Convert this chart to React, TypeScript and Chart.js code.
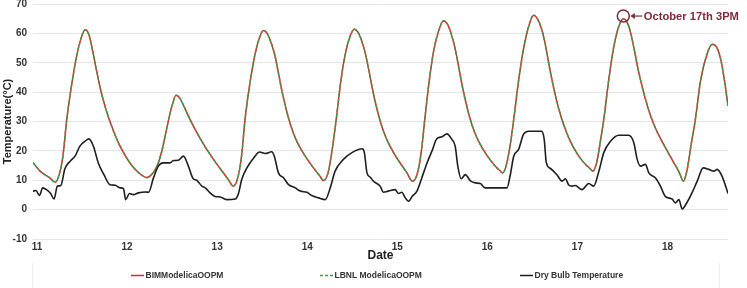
import React, { useEffect, useRef } from 'react';
import { Chart, registerables } from 'chart.js';

Chart.register(...registerables);

// ---- data (hours since 11 Oct 00:00) ----
const dayTickHours = [0, 24, 48, 72, 96, 120, 144, 168];
const dayTickLabels = ['11', '12', '13', '14', '15', '16', '17', '18'];

const seriesNames = ['BIMModelicaOOPM', 'LBNL ModelicaOOPM', 'Dry Bulb Temperature'];

const modelHours = [
  0, 1.9, 4.5, 5.9, 7.0, 8.0, 9.0, 10.3, 11.6, 12.8, 13.9,
  14.9, 15.9, 16.9, 17.9, 18.9, 19.9, 20.9, 21.9, 22.9, 23.9, 24.9, 25.9, 26.9, 27.9, 28.9, 30.3,
  31.3, 32.3, 33.3, 34.3, 35.3, 36.3, 37.2, 38.1,
  39.0, 40.0, 41.0, 42.0, 43.0, 44.5, 46.0, 47.5, 49.0, 50.5, 52.0, 53.4,
  54.7, 55.6, 56.5, 57.8, 59.1, 60.3, 61.4,
  62.4, 63.4, 64.4, 65.4, 66.4, 67.4, 68.4, 69.4, 70.4, 71.4, 72.4, 73.4, 74.4, 75.4, 76.4, 77.4,
  78.5, 79.5, 80.8, 82.0, 83.3, 84.5, 85.6,
  86.6, 87.6, 88.6, 89.6, 90.6, 91.6, 92.6, 93.6, 94.6, 95.6, 96.6, 97.6, 98.6, 99.6, 101.1,
  102.3, 103.4, 104.4, 105.5, 106.7, 108.0, 109.4,
  110.4, 111.4, 112.4, 113.4, 114.4, 115.4, 116.4, 117.4, 118.4, 119.4, 120.4, 121.4, 122.4, 123.4, 124.4, 125.2,
  126.2, 127.1, 128.1, 129.3, 130.7, 132.0, 133.4,
  134.4, 135.4, 136.4, 137.4, 138.4, 139.4, 140.4, 141.4, 142.4, 143.4, 144.4, 145.4, 146.4, 147.4, 148.4, 149.2,
  150.2, 151.1, 152.1, 153.3, 154.7, 156.0, 157.3,
  158.3, 159.3, 160.3, 161.3, 162.3, 163.3, 164.3, 165.3, 166.3, 167.3, 168.3, 169.3, 170.3, 171.3, 172.3, 173.3,
  174.3, 175.3, 176.5, 177.9, 179.5, 181.0, 182.2, 183.2, 184.2, 185.2,
];

const bimModelicaTemps = [
  16, 13.1, 10.8, 9.3, 12, 18.5, 30.7, 42.5, 52, 58.3, 61.2,
  59.5, 54, 47.5, 41.5, 36.5, 32.3, 28.6, 25.3, 22.4, 19.9, 17.7, 15.8, 14.2, 12.9, 11.8, 10.9,
  11.6, 13, 15.6, 19.8, 25.6, 31.6, 36, 38.9,
  38.2, 35.8, 33, 30.3, 27.8, 24.3, 21.1, 18.2, 15.5, 12.9, 10.3, 8,
  11.5, 18.5, 30.7, 43, 52.5, 58.3, 61,
  60, 57, 52.8, 46.5, 40, 34.5, 29.8, 26, 23, 20.6, 18.5, 16.6, 14.8, 13.1, 11.5, 9.9,
  12, 18.5, 30.7, 43.5, 53.5, 59, 61.4,
  60.4, 57.4, 53, 46.8, 40.2, 34.6, 29.8, 26, 23, 20.5, 18.3, 16.3, 14.5, 12.6, 9.7,
  11.8, 19, 30.7, 43, 53.5, 60.5, 64.3,
  63.2, 60, 55.3, 48.8, 42, 36.2, 31.3, 27.3, 24.2, 21.7, 19.6, 17.7, 16, 14.5, 13.3, 12.5,
  15.5, 21.5, 30.7, 43, 54.6, 62, 66.2,
  65, 62, 57, 50, 43.5, 37.8, 33, 29, 25.6, 22.7, 20.3, 18.3, 16.6, 15.2, 14, 13.1,
  16, 22.5, 30.7, 43, 55, 62, 65,
  63.8, 60, 54, 47.5, 42, 37.2, 33, 29.5, 26.5, 24, 21.6, 19.3, 17, 14.8, 12.4, 9.7,
  13.5, 21.5, 30.7, 44, 52.5, 56.3, 55.2, 51.5, 44.5, 35.3,
];

const lbnlModelicaTemps = [
  16, 13.1, 10.8, 9.3, 12, 18.5, 30.7, 42.5, 52, 58.3, 61.2,
  59.5, 54, 47.5, 41.5, 36.5, 32.3, 28.6, 25.3, 22.4, 19.9, 17.7, 15.8, 14.2, 12.9, 11.8, 10.9,
  11.6, 13, 15.6, 19.8, 25.6, 31.6, 36, 38.9,
  38.2, 35.8, 33, 30.3, 27.8, 24.3, 21.1, 18.2, 15.5, 12.9, 10.3, 8,
  11.5, 18.5, 30.7, 43, 52.5, 58.3, 61,
  60, 57, 52.8, 46.5, 40, 34.5, 29.8, 26, 23, 20.6, 18.5, 16.6, 14.8, 13.1, 11.5, 9.9,
  12, 18.5, 30.7, 43.5, 53.5, 59, 61.4,
  60.4, 57.4, 53, 46.8, 40.2, 34.6, 29.8, 26, 23, 20.5, 18.3, 16.3, 14.5, 12.6, 9.7,
  11.8, 19, 30.7, 43, 53.5, 60.5, 64.3,
  63.2, 60, 55.3, 48.8, 42, 36.2, 31.3, 27.3, 24.2, 21.7, 19.6, 17.7, 16, 14.5, 13.3, 12.5,
  15.5, 21.5, 30.7, 43, 54.6, 62, 66.2,
  65, 62, 57, 50, 43.5, 37.8, 33, 29, 25.6, 22.7, 20.3, 18.3, 16.6, 15.2, 14, 13.1,
  16, 22.5, 30.7, 43, 55, 62, 65,
  63.8, 60, 54, 47.5, 42, 37.2, 33, 29.5, 26.5, 24, 21.6, 19.3, 17, 14.8, 12.4, 9.7,
  13.5, 21.5, 30.7, 44, 52.5, 56.3, 55.2, 51.5, 44.5, 35.3,
];

const dryBulbHours = [
  0, 0.8, 1.7, 2.6, 3.6, 4.7, 5.6, 6.5, 7.4, 8.5, 9.9, 11.2, 12.5, 13.9, 14.9, 16.1, 17.4, 18.9, 20.5, 21.9, 23.2,
  24.1, 24.7, 25.7, 26.7, 28.1, 29.9, 30.8, 32.1, 33.4, 34.7, 36.5, 37.4, 38.7, 40.1, 41.4, 42.7, 43.6, 45.0, 45.9, 47.2,
  48.5, 49.9, 51.6, 53.9, 54.8, 55.6, 57.0, 58.8, 60.4, 61.9, 63.6, 64.3, 65.4, 66.8, 68.1, 69.9, 71.2,
  73.0, 74.3, 76.1, 77.9, 79.2, 80.5, 82.7, 85.0, 87.7, 88.3, 89.0, 89.9, 90.7, 92.5, 93.4, 94.7,
  96.5, 97.4, 98.3, 99.2, 100.1, 101.0, 102.3, 103.6, 105.0, 106.3, 107.6, 109.0, 110.3, 111.6, 112.5, 113.2, 114.1, 115.2, 116.5, 117.9, 119.2,
  120.5, 122.8, 126.3, 127.2, 128.1, 129.4, 130.7, 132.1, 135.5, 136.2, 136.8, 137.9, 139.6, 141.0, 141.9, 142.7,
  143.6, 144.5, 146.3, 148.1, 149.4, 150.8, 152.1, 153.9, 156.1, 158.7, 160.1, 161.0, 161.9, 163.2, 164.1, 165.9, 167.2,
  168.5, 170.3, 171.2, 172.1, 173.0, 174.3, 175.6, 177.0, 178.6, 180.1, 181.4, 182.3, 183.6, 185.2,
];

const dryBulbTemps = [
  6.3, 6.5, 4.8, 7.4, 6.8, 5.5, 3.6, 8.0, 8.2, 13.9, 16.5, 18.2, 21.6, 23.3, 24.1, 21.6, 15.9, 11.9, 8.5, 8.3, 7.4,
  7.2, 3.4, 5.5, 5.1, 5.7, 6.0, 5.9, 10.8, 14.8, 15.9, 15.9, 16.7, 16.8, 18.2, 14.8, 10.5, 10.0, 8.0, 7.4, 5.7,
  4.5, 4.3, 3.4, 3.6, 5.7, 10.2, 14.2, 17.6, 19.6, 19.1, 19.7, 18.2, 12.5, 10.8, 8.5, 7.4, 6.3,
  5.9, 4.8, 4.0, 3.4, 7.4, 13.1, 17.1, 19.4, 20.7, 19.4, 12.5, 11.0, 9.7, 8.0, 5.9, 6.3,
  6.8, 5.5, 5.9, 4.0, 2.8, 4.5, 6.3, 10.8, 15.9, 19.9, 24.1, 24.8, 25.8, 23.9, 21.6, 14.8, 10.5, 11.9, 9.9, 9.1, 8.9,
  7.4, 7.4, 7.4, 11.9, 18.2, 20.5, 25.6, 26.7, 26.7, 24.2, 15.9, 14.0, 11.9, 9.7, 10.5, 8.5,
  8.0, 8.2, 6.8, 8.9, 8.0, 13.1, 19.4, 23.3, 25.3, 25.3, 22.8, 17.1, 14.8, 15.4, 12.5, 10.8, 8.0,
  4.5, 3.6, 2.3, 3.4, 0.2, 2.5, 5.7, 9.7, 14.2, 13.7, 13.1, 13.7, 11.4, 5.5,
];

const annotationHour = 157.3;
const annotationTemp = 65.9;
const annotationText = 'October 17th 3PM';

const axisTitleX = 'Date';
const axisTitleY = 'Temperature(°C)';

// ---- styles ----
const FONT = "'Liberation Sans', Arial, sans-serif";
const RED = '#e0262c';
const GREEN = '#3a9e48';
const BLACK = '#1e1e1e';
const ANNO = '#7e2a3b';

const toPoints = (xs: number[], ys: number[]) => xs.map((x, i) => ({ x, y: ys[i] }));

const overlayPlugin = {
  id: 'overlay',
  afterDraw(chart: any) {
    const ctx = chart.ctx as CanvasRenderingContext2D;
    const xs = chart.scales.x;
    const ys = chart.scales.y;
    ctx.save();

    // faint legend frame
    ctx.strokeStyle = '#ececec';
    ctx.lineWidth = 1;
    ctx.beginPath();
    ctx.moveTo(32.5, 263);
    ctx.lineTo(32.5, 288);
    ctx.moveTo(719.5, 263);
    ctx.lineTo(719.5, 288);
    ctx.stroke();

    // legend
    const ly = 275.5;
    const starts = [131, 320, 520];
    const colors = [RED, GREEN, BLACK];
    ctx.font = `bold 8.5px ${FONT}`;
    ctx.textBaseline = 'middle';
    ctx.textAlign = 'left';
    seriesNames.forEach((name, i) => {
      const sx = starts[i];
      ctx.strokeStyle = colors[i];
      ctx.lineWidth = 1.5;
      ctx.setLineDash(i === 1 ? [3, 2] : []);
      ctx.beginPath();
      ctx.moveTo(sx, ly);
      ctx.lineTo(sx + 13, ly);
      ctx.stroke();
      ctx.setLineDash([]);
      ctx.fillStyle = '#333';
      ctx.fillText(name, sx + 14.5, ly);
    });

    // annotation
    const cx = xs.getPixelForValue(annotationHour);
    const cy = ys.getPixelForValue(annotationTemp);
    const r = 6;
    ctx.strokeStyle = ANNO;
    ctx.fillStyle = ANNO;
    ctx.lineWidth = 1.5;
    ctx.beginPath();
    ctx.arc(cx, cy, r, 0, Math.PI * 2);
    ctx.stroke();
    const ax0 = cx + r + 1;
    ctx.lineWidth = 1.2;
    ctx.beginPath();
    ctx.moveTo(ax0 + 3, cy);
    ctx.lineTo(ax0 + 12, cy);
    ctx.stroke();
    ctx.beginPath();
    ctx.moveTo(ax0, cy);
    ctx.lineTo(ax0 + 4.5, cy - 3);
    ctx.lineTo(ax0 + 4.5, cy + 3);
    ctx.closePath();
    ctx.fill();
    ctx.font = `bold 11.2px ${FONT}`;
    ctx.textBaseline = 'middle';
    ctx.fillText(annotationText, ax0 + 13.5, cy + 0.5);
    ctx.restore();
  },
};

export default function App() {
  const ref = useRef<HTMLCanvasElement>(null);

  useEffect(() => {
    if (!ref.current) return;
    const chart = new Chart(ref.current, {
      type: 'line',
      data: {
        datasets: [
          {
            label: seriesNames[0],
            data: toPoints(modelHours, bimModelicaTemps),
            borderColor: RED,
            borderWidth: 1.5,
            pointRadius: 0,
            cubicInterpolationMode: 'monotone',
            order: 2,
          },
          {
            label: seriesNames[1],
            data: toPoints(modelHours, lbnlModelicaTemps),
            borderColor: GREEN,
            borderWidth: 1.5,
            borderDash: [3, 2],
            pointRadius: 0,
            cubicInterpolationMode: 'monotone',
            order: 1,
          },
          {
            label: seriesNames[2],
            data: toPoints(dryBulbHours, dryBulbTemps),
            borderColor: BLACK,
            borderWidth: 1.6,
            pointRadius: 0,
            cubicInterpolationMode: 'monotone',
            order: 0,
          },
        ],
      },
      options: {
        animation: false,
        responsive: false,
        events: [],
        layout: { padding: { left: 0, right: 19, top: 0, bottom: 24 } },
        plugins: { legend: { display: false }, tooltip: { enabled: false } },
        scales: {
          x: {
            type: 'linear',
            min: 0,
            max: 185.2,
            grid: { display: false, drawTicks: false },
            border: { display: false },
            afterBuildTicks: (s: any) => {
              s.ticks = dayTickHours.map((v) => ({ value: v }));
            },
            afterFit: (s: any) => {
              s.height = 25;
            },
            ticks: {
              autoSkip: false,
              maxRotation: 0,
              padding: 2,
              labelOffset: 4,
              color: '#333',
              font: { family: FONT, size: 10, weight: 'bold' },
              callback: (v: any) => dayTickLabels[dayTickHours.indexOf(Number(v))] ?? '',
            },
            title: {
              display: true,
              text: axisTitleX,
              color: '#222',
              font: { family: FONT, size: 12, weight: 'bold' },
              padding: { top: 0, bottom: 1 },
            },
          },
          y: {
            min: -10,
            max: 70,
            grid: { color: '#e6e6e6', lineWidth: 1, drawTicks: false },
            border: { display: false },
            afterFit: (s: any) => {
              s.width = 33;
              s.paddingTop = 4;
              s.paddingBottom = 0;
            },
            ticks: {
              stepSize: 10,
              padding: 6,
              color: '#333',
              font: { family: FONT, size: 10, weight: 'bold' },
            },
            title: {
              display: true,
              text: axisTitleY,
              color: '#222',
              font: { family: FONT, size: 11, weight: 'bold' },
              padding: { top: 1, bottom: 0 },
            },
          },
        },
      },
      plugins: [overlayPlugin],
    } as any);
    return () => chart.destroy();
  }, []);

  return (
    <div style={{ position: 'fixed', left: 0, top: 0, width: 747, height: 288, background: '#fff' }}>
      <canvas ref={ref} width={747} height={288} style={{ display: 'block', width: 747, height: 288 }} />
    </div>
  );
}
